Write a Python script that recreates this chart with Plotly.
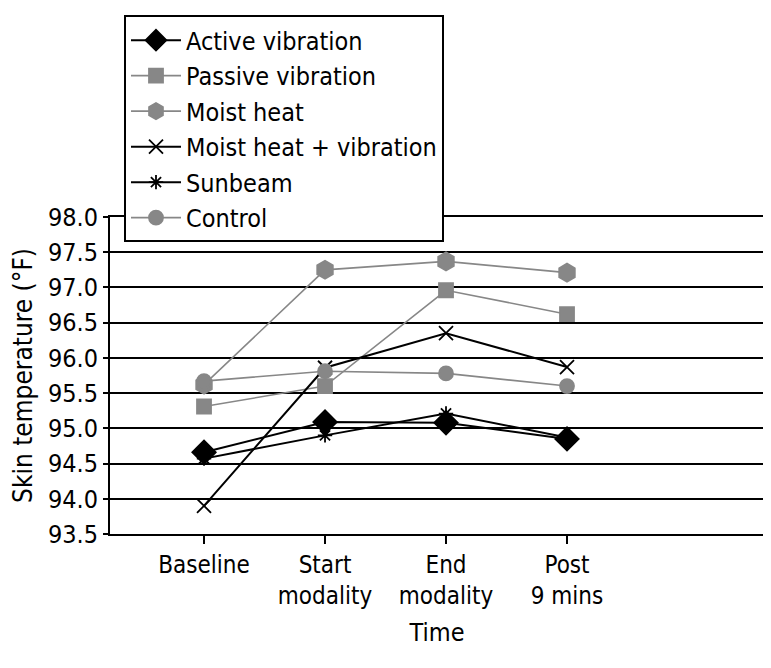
import plotly.graph_objects as go

categories = ["Baseline", "Start<br>modality", "End<br>modality", "Post<br>9 mins"]
series_names = ["Active vibration", "Passive vibration", "Moist heat",
                "Moist heat + vibration", "Sunbeam", "Control"]
active_vibration = [94.66, 95.09, 95.08, 94.85]
passive_vibration = [95.31, 95.60, 96.96, 96.62]
moist_heat = [95.62, 97.25, 97.37, 97.21]
moist_heat_vibration = [93.90, 95.86, 96.35, 95.87]
sunbeam = [94.57, 94.90, 95.21, 94.87]
control = [95.67, 95.81, 95.78, 95.60]
y_ticks = [93.5, 94.0, 94.5, 95.0, 95.5, 96.0, 96.5, 97.0, 97.5, 98.0]

GREY = "#878787"
FONT = "DejaVu Sans Condensed, DejaVu Sans, sans-serif"

styles = [
    dict(color="black", symbol="diamond", size=18, lw=2),
    dict(color=GREY, symbol="square", size=14, lw=1.6),
    dict(color=GREY, symbol="hexagon", size=18, lw=1.6),
    dict(color="black", symbol="x-thin-open", size=14, lw=2),
    dict(color="black", symbol="asterisk-open", size=12, lw=2),
    dict(color=GREY, symbol="circle", size=14, lw=1.6),
]
values = [active_vibration, passive_vibration, moist_heat,
          moist_heat_vibration, sunbeam, control]

fig = go.Figure()
for name, vals, st in zip(series_names, values, styles):
    fig.add_trace(go.Scatter(
        x=categories, y=vals, name=name, mode="lines+markers",
        line=dict(color=st["color"], width=st["lw"]),
        marker=dict(symbol=st["symbol"], size=st["size"], color=st["color"],
                    line=dict(color=st["color"], width=1.8)),
    ))

fig.update_layout(
    width=763, height=660,
    margin=dict(l=102, r=7, t=207, b=134),
    plot_bgcolor="white", paper_bgcolor="white",
    font=dict(family=FONT, size=24, color="black"),
    showlegend=True,
    legend=dict(x=0.0214, y=1.636, xanchor="left", yanchor="top",
                bgcolor="white", bordercolor="black", borderwidth=2,
                font=dict(family=FONT, size=25), tracegroupgap=0,
                itemwidth=50),
    xaxis=dict(
        type="category", range=[-0.777, 4.628], automargin=False,
        showline=True, linecolor="black", linewidth=2, mirror=True,
        ticks="outside", ticklen=8, tickwidth=2, tickcolor="black",
        showgrid=False, zeroline=False,
        tickfont=dict(family=FONT, size=24),
        title=dict(text="Time", font=dict(family=FONT, size=25), standoff=14),
    ),
    yaxis=dict(
        range=[93.5, 98.0], tickvals=y_ticks, automargin=False,
        ticktext=[f"{v:.1f}" for v in y_ticks],
        showline=True, linecolor="black", linewidth=2, mirror=True,
        ticks="outside", ticklen=5, tickwidth=2, tickcolor="black",
        showgrid=True, gridcolor="black", gridwidth=2, zeroline=False,
        tickfont=dict(family=FONT, size=25),
        title=dict(text="Skin temperature (°F)", font=dict(family=FONT, size=26), standoff=8),
    ),
)

fig.write_html("out.html")
